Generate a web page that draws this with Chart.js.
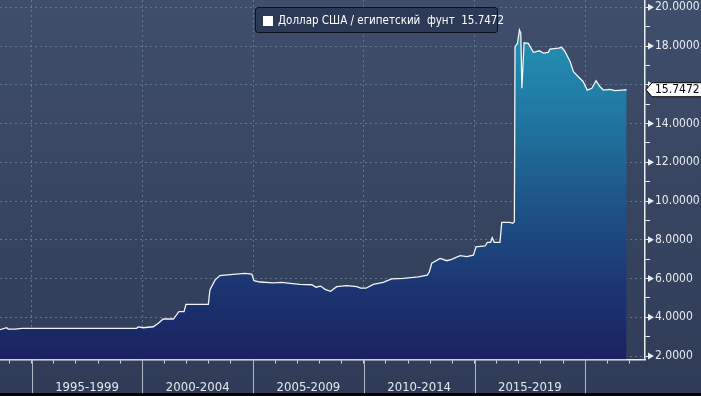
<!DOCTYPE html>
<html>
<head>
<meta charset="utf-8">
<script src="https://cdn.jsdelivr.net/npm/chart.js@4.4.0/dist/chart.umd.min.js"></script>
<style>
  html, body { margin: 0; padding: 0; }
  body { width: 701px; height: 396px; overflow: hidden; background: #000; }
  #wrap { position: relative; width: 701px; height: 393px; background: linear-gradient(#3f4e6b, #303c57); }
  #legend {
    position: absolute; left: 255px; top: 7px; width: 241px; height: 24px;
    border: 1px solid #0b111d; border-radius: 3px; background: #2c3a56;
    color: #fff; font: 11.5px "DejaVu Sans Condensed", "DejaVu Sans", sans-serif;
    white-space: pre; line-height: 25px;
  }
  #legend i { position: absolute; left: 7px; top: 8px; width: 10px; height: 10px; background: #fff; }
  #legend span { position: absolute; left: 22px; top: 0; }
</style>
</head>
<body>
<div id="wrap">
  <canvas id="chart" width="701" height="393"></canvas>
  <div id="legend"><i></i><span id="legendText"></span></div>
</div>
<script>
// USD / EGP, decimal years
const years = [
  1993.57, 1993.87, 1993.94, 1994.25, 1994.55, 1999.74, 1999.81, 2000.03, 2000.49, 2000.72,
  2000.94, 2001.40, 2001.65, 2001.88, 2001.97, 2002.98, 2003.05, 2003.28, 2003.50, 2003.96,
  2004.63, 2004.94, 2005.04, 2005.31, 2005.91, 2006.29, 2006.67, 2007.12, 2007.65, 2007.84,
  2008.05, 2008.25, 2008.50, 2008.78, 2009.23, 2009.68, 2009.86, 2010.10, 2010.43, 2010.88,
  2011.26, 2011.78, 2012.46, 2012.87, 2012.96, 2013.07, 2013.45, 2013.75, 2013.97, 2014.35,
  2014.65, 2014.95, 2015.07, 2015.48, 2015.58, 2015.73, 2015.80, 2015.89, 2016.15, 2016.23,
  2016.60, 2016.72, 2016.80, 2016.83, 2016.94, 2017.03, 2017.09, 2017.14, 2017.24, 2017.43,
  2017.66, 2017.93, 2018.11, 2018.33, 2018.41, 2018.79, 2018.94, 2019.09, 2019.32, 2019.47,
  2019.69, 2019.91, 2020.09, 2020.30, 2020.49, 2020.67, 2020.82, 2021.12, 2021.35, 2021.65,
  2021.87
];
const rates = [
  3.36, 3.46, 3.39, 3.39, 3.43, 3.43, 3.50, 3.46, 3.51, 3.69,
  3.91, 3.91, 4.29, 4.29, 4.67, 4.67, 5.41, 5.92, 6.15, 6.20,
  6.27, 6.23, 5.89, 5.82, 5.78, 5.80, 5.75, 5.70, 5.68, 5.55,
  5.61, 5.44, 5.34, 5.58, 5.63, 5.58, 5.50, 5.50, 5.70, 5.80,
  5.98, 6.01, 6.09, 6.18, 6.35, 6.79, 7.04, 6.92, 6.99, 7.18,
  7.13, 7.21, 7.64, 7.68, 7.87, 7.87, 8.11, 7.87, 7.87, 8.90,
  8.90, 8.85, 8.93, 17.97, 18.14, 18.83, 18.66, 15.82, 18.17, 18.14,
  17.68, 17.76, 17.64, 17.68, 17.85, 17.89, 17.94, 17.71, 17.19, 16.68,
  16.42, 16.16, 15.73, 15.82, 16.21, 15.90, 15.73, 15.77, 15.70, 15.73,
  15.7472
];

const periods = ['1995-1999', '2000-2004', '2005-2009', '2010-2014', '2015-2019'];
const periodStarts = [1995, 2000, 2005, 2010, 2015];
const separatorYears = [1995, 2000, 2005, 2010, 2015, 2020];
const yearTicks = [1994, 1995, 1996, 1997, 1998, 1999, 2000, 2001, 2002, 2003, 2004, 2005, 2006, 2007,
  2008, 2009, 2010, 2011, 2012, 2013, 2014, 2015, 2016, 2017, 2018, 2019, 2020, 2021, 2022];
const yLabels = [2, 4, 6, 8, 10, 12, 14, 16, 18, 20];
const yMinorTicks = [2, 3, 4, 5, 6, 7, 8, 9, 10, 11, 12, 13, 14, 15, 16, 17, 18, 19, 20];
const seriesName = 'Доллар США / египетский  фунт';

const lastRate = rates[rates.length - 1];
const FONT = '"DejaVu Sans Condensed", "DejaVu Sans", sans-serif';
const gridColor = '#5b7794';
const axisColor = '#e9ecf0';

document.getElementById('legendText').textContent = seriesName + '  ' + lastRate.toFixed(4);

// label position in the middle of each 5-year period
const periodMids = periodStarts.map(y => y + 2.5);

// gradient under the line
function areaGradient(context) {
  const chart = context.chart;
  const area = chart.chartArea;
  if (!area) return 'rgba(0,0,0,0)';
  const g = chart.ctx.createLinearGradient(0, area.top, 0, area.bottom);
  g.addColorStop(0, '#2699b9');
  g.addColorStop(0.3, '#207aa3');
  g.addColorStop(0.55, '#1e5689');
  g.addColorStop(0.8, '#1c3572');
  g.addColorStop(1, '#1a2160');
  return g;
}

// separators under the x axis, arrows on labelled y ticks, last value box
const decorPlugin = {
  id: 'decor',
  afterDraw(chart) {
    const c = chart.ctx;
    const xs = chart.scales.x;
    const ys = chart.scales.y;
    const area = chart.chartArea;
    c.save();

    c.strokeStyle = '#b3bac6';
    c.lineWidth = 1;
    separatorYears.forEach(v => {
      const x = Math.round(xs.getPixelForValue(v)) + 0.5;
      c.beginPath();
      c.moveTo(x, area.bottom);
      c.lineTo(x, chart.height);
      c.stroke();
    });

    c.fillStyle = axisColor;
    yLabels.forEach(v => {
      const y = ys.getPixelForValue(v);
      c.beginPath();
      c.moveTo(area.right + 3, y - 3.5);
      c.lineTo(area.right + 9, y);
      c.lineTo(area.right + 3, y + 3.5);
      c.closePath();
      c.fill();
    });

    const y = ys.getPixelForValue(lastRate);
    const x0 = area.right + 1;
    c.beginPath();
    c.moveTo(x0, y);
    c.lineTo(x0 + 6, y - 7);
    c.lineTo(chart.width + 2, y - 7);
    c.lineTo(chart.width + 2, y + 7);
    c.lineTo(x0 + 6, y + 7);
    c.closePath();
    c.fillStyle = '#ffffff';
    c.fill();
    c.strokeStyle = '#000000';
    c.lineWidth = 1;
    c.stroke();
    c.fillStyle = '#000000';
    c.font = '12px ' + FONT;
    c.textBaseline = 'middle';
    c.fillText(lastRate.toFixed(4), x0 + 9, y + 0.5);

    c.restore();
  }
};

new Chart(document.getElementById('chart'), {
  type: 'line',
  data: {
    datasets: [{
      label: seriesName,
      data: years.map((y, i) => ({ x: y, y: rates[i] })),
      borderColor: '#f2f4f7',
      borderWidth: 1.3,
      backgroundColor: areaGradient,
      fill: 'start',
      tension: 0,
      pointRadius: 0
    }]
  },
  options: {
    responsive: false,
    animation: false,
    layout: { padding: 0 },
    plugins: {
      legend: { display: false },
      tooltip: { enabled: false }
    },
    scales: {
      x: {
        type: 'linear',
        min: 1993.57,
        max: 2022.70,
        afterBuildTicks: s => {
          s.ticks = yearTicks.concat(periodMids).map(v => ({ value: v }));
        },
        afterFit: s => {
          s.height = 33.5;
          s.paddingLeft = 0;
          s.paddingRight = 0;
        },
        ticks: {
          autoSkip: false,
          maxRotation: 0,
          padding: 16,
          color: '#e4e8ee',
          font: { family: FONT, size: 13 },
          callback: v => {
            const i = periodMids.indexOf(v);
            return i >= 0 ? periods[i] : '';
          }
        },
        grid: {
          color: ctx => separatorYears.includes(ctx.tick && ctx.tick.value) ? gridColor : 'rgba(0,0,0,0)',
          tickColor: ctx => yearTicks.includes(ctx.tick && ctx.tick.value) ? '#d4d8de' : 'rgba(0,0,0,0)',
          tickLength: 4,
          lineWidth: 1
        },
        border: { color: axisColor, width: 1.5, dash: [2, 3] }
      },
      y: {
        position: 'right',
        min: 1.82,
        max: 20.38,
        afterBuildTicks: s => {
          s.ticks = yMinorTicks.map(v => ({ value: v }));
        },
        afterFit: s => {
          s.width = 56;
          s.paddingTop = 0;
          s.paddingBottom = 0;
        },
        ticks: {
          autoSkip: false,
          padding: 5,
          color: axisColor,
          font: { family: FONT, size: 12 },
          callback: v => (yLabels.includes(v) && Math.abs(v - lastRate) > 0.6) ? v.toFixed(4) : ''
        },
        grid: {
          color: ctx => yLabels.includes(ctx.tick && ctx.tick.value) ? gridColor : 'rgba(0,0,0,0)',
          tickColor: axisColor,
          tickLength: 5,
          lineWidth: 1
        },
        border: { color: axisColor, width: 1.5, dash: [2, 3] }
      }
    }
  },
  plugins: [decorPlugin]
});
</script>
</body>
</html>
